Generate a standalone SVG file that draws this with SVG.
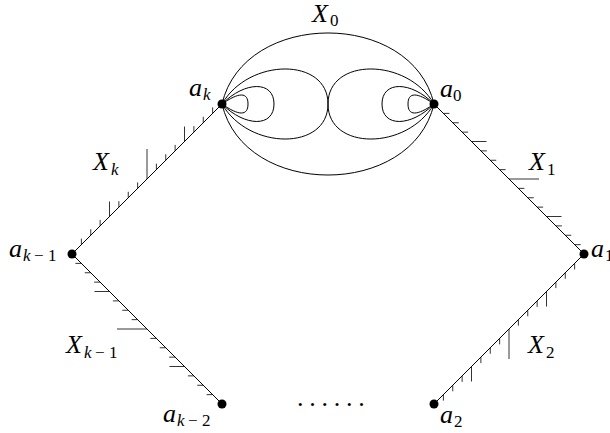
<svg xmlns="http://www.w3.org/2000/svg" width="610" height="433" viewBox="0 0 610 433">
<style>
.e{fill:none;stroke:#000;stroke-width:1}
.t{fill:none;stroke:#000;stroke-width:0.8}
.n{fill:#000}
text{font-family:"Liberation Serif","DejaVu Serif",serif;fill:#000}
.m{font-size:26px;font-style:italic}
.s{font-size:17px;font-style:normal}
.si{font-size:17px;font-style:italic}
</style>
<rect width="610" height="433" fill="#fff"/>
<g id="connectors">
<path class="e" d="M222,104L72,254M434,104L584,254M72,254L222,404M584,254L434,404"/>
<g id="loops">
<path class="e" d="M222,104C244,9.3 412,9.3 434,104C412,198.7 244,198.7 222,104Z"/>
<path class="e" d="M222,104C249,57.3 328,57.3 328,104C328,150.7 249,150.7 222,104Z"/>
<path class="e" d="M222,104C245.3,80.7 274,80.7 274,104C274,127.3 245.3,127.3 222,104Z"/>
<path class="e" d="M222,104C239,92 248,92 248,104C248,116 239,116 222,104Z"/>
<path class="e" d="M434,104C407,57.3 328,57.3 328,104C328,150.7 407,150.7 434,104Z"/>
<path class="e" d="M434,104C410.7,80.7 382,80.7 382,104C382,127.3 410.7,127.3 434,104Z"/>
<path class="e" d="M434,104C417,92 408,92 408,104C408,116 417,116 434,104Z"/>
</g>
<g id="ticks">
<path class="t" d="M81.375,244.625v-6M90.75,235.25v-6M100.125,225.875v-6M109.5,216.5v-15M118.875,207.125v-6M128.25,197.75v-6M137.625,188.375v-6M147,179v-30M156.375,169.625v-6M165.75,160.25v-6M175.125,150.875v-6M184.5,141.5v-15M193.875,132.125v-6M203.25,122.75v-6M212.625,113.375v-6"/>
<path class="t" d="M443.375,113.375h6M452.75,122.75h6M462.125,132.125h6M471.5,141.5h15M480.875,150.875h6M490.25,160.25h6M499.625,169.625h6M509,179h30M518.375,188.375h6M527.75,197.75h6M537.125,207.125h6M546.5,216.5h15M555.875,225.875h6M565.25,235.25h6M574.625,244.625h6"/>
<path class="t" d="M81.375,263.375h-6M90.75,272.75h-6M100.125,282.125h-6M109.5,291.5h-15M118.875,300.875h-6M128.25,310.25h-6M137.625,319.625h-6M147,329h-30M156.375,338.375h-6M165.75,347.75h-6M175.125,357.125h-6M184.5,366.5h-15M193.875,375.875h-6M203.25,385.25h-6M212.625,394.625h-6"/>
<path class="t" d="M443.375,394.625v6M452.75,385.25v6M462.125,375.875v6M471.5,366.5v15M480.875,357.125v6M490.25,347.75v6M499.625,338.375v6M509,329v30M518.375,319.625v6M527.75,310.25v6M537.125,300.875v6M546.5,291.5v15M555.875,282.125v6M565.25,272.75v6M574.625,263.375v6"/>
</g>
</g>
<g id="ak"><circle class="n" cx="222" cy="104" r="4.5"/><text class="m" x="189" y="96">a</text><text class="si" x="203" y="100">k</text></g>
<g id="a0"><circle class="n" cx="434" cy="104" r="4.5"/><text class="m" x="440" y="97">a</text><text class="s" x="453" y="101">0</text></g>
<g id="akm1"><circle class="n" cx="72" cy="254" r="4.5"/><text class="m" x="9" y="257">a</text><text class="si" x="23" y="261">k</text><text class="s" x="34" y="261">−</text><text class="s" x="48" y="261">1</text></g>
<g id="a1"><circle class="n" cx="584" cy="254" r="4.5"/><text class="m" x="591" y="257">a</text><text class="s" x="605" y="261">1</text></g>
<g id="akm2"><circle class="n" cx="222" cy="404" r="4.5"/><text class="m" x="163" y="422">a</text><text class="si" x="177" y="426">k</text><text class="s" x="188" y="426">−</text><text class="s" x="202" y="426">2</text></g>
<g id="a2"><circle class="n" cx="434" cy="404" r="4.5"/><text class="m" x="440" y="423">a</text><text class="s" x="454" y="427">2</text></g>
<g id="labels">
<text class="m" x="312" y="22">X</text><text class="s" x="330" y="26">0</text>
<text class="m" x="93" y="170">X</text><text class="si" x="111" y="175">k</text>
<text class="m" x="529" y="170">X</text><text class="s" x="547" y="175">1</text>
<text class="m" x="66" y="353">X</text><text class="si" x="84" y="358">k</text><text class="s" x="95" y="358">−</text><text class="s" x="109" y="358">1</text>
<text class="m" x="528" y="353">X</text><text class="s" x="546" y="358">2</text>
<text class="m" x="297" y="406" style="font-style:normal;letter-spacing:5.75px">......</text>
</g>
</svg>
